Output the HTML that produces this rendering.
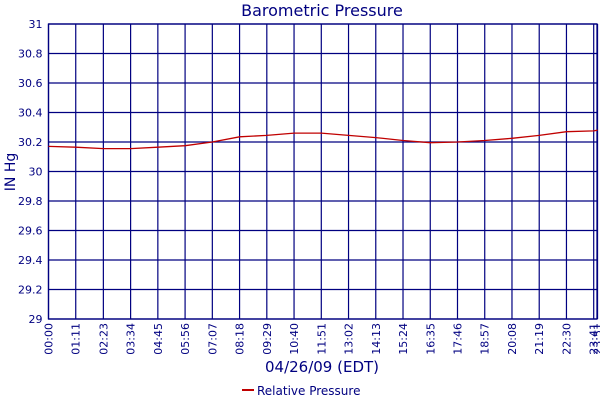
<!DOCTYPE html>
<html><head><meta charset="utf-8"><style>
body{margin:0;background:#fff;}
svg{display:block;font-family:"DejaVu Sans","Liberation Sans",sans-serif;}
</style></head><body>
<svg id="c" width="600" height="400">
<text x="322" y="16" font-size="16" fill="#000080" text-anchor="middle">Barometric Pressure</text>
<text transform="translate(15,172) rotate(-90)" font-size="14" fill="#000080" text-anchor="middle">IN Hg</text>
<text x="322" y="372" font-size="15" fill="#000080" text-anchor="middle">04/26/09 (EDT)</text>
<line x1="242" y1="390" x2="254" y2="390" stroke="#c00000" stroke-width="2"/>
<text x="257" y="395" font-size="12" fill="#000080">Relative Pressure</text>
<g id="grid"></g><g id="ticks"></g><path id="line" fill="none" stroke="#c00000" stroke-width="1.3"/>
</svg>
<script>
const xLabels=["00:00","01:11","02:23","03:34","04:45","05:56","07:07","08:18","09:29","10:40","11:51","13:02","14:13","15:24","16:35","17:46","18:57","20:08","21:19","22:30","23:41","23:51"];
const xMinutes=[0,71,143,214,285,356,427,498,569,640,711,782,853,924,995,1066,1137,1208,1279,1350,1421,1431];
const pressure=[30.17,30.165,30.155,30.155,30.165,30.175,30.20,30.235,30.245,30.26,30.26,30.245,30.23,30.21,30.195,30.20,30.21,30.225,30.245,30.27,30.275,30.28];
const yTicks=[29,29.2,29.4,29.6,29.8,30,30.2,30.4,30.6,30.8,31];
const L=48.5,R=597,T=24,B=319;
const x=m=>L+m*(593.7-L)/1421;
const y=v=>B-(v-29)/2*(B-T);
const ns="http://www.w3.org/2000/svg";
const g=document.getElementById('grid'),tk=document.getElementById('ticks');
function mk(tag,a,p){const e=document.createElementNS(ns,tag);for(const k in a)e.setAttribute(k,a[k]);p.appendChild(e);return e;}
const fr=mk('rect',{x:L,y:T,width:R-L,height:B-T,fill:'none',stroke:'#000080','stroke-width':1.3},g);


yTicks.forEach(v=>{
 const l=mk('line',{x1:L,x2:R,y1:y(v),y2:y(v),stroke:'#000080','stroke-width':1.2},g);
 
 
 const t=mk('text',{x:L-6,y:y(v)+4,'font-size':11,fill:'#000080','text-anchor':'end'},tk);
 t.textContent=String(v);
 
 
});
xMinutes.forEach((m,i)=>{
 const l=mk('line',{x1:x(m),x2:x(m),y1:T,y2:B,stroke:'#000080','stroke-width':1.2},g);
 
 
 const t=mk('text',{transform:`translate(${x(m)+4},${B+4}) rotate(-90)`,'font-size':11,fill:'#000080','text-anchor':'end'},tk);
 t.textContent=xLabels[i];
 
 
});
document.getElementById('line').setAttribute('d',pressure.map((v,i)=>(i?'L':'M')+x(xMinutes[i]).toFixed(1)+','+y(v).toFixed(1)).join(''));
</script>
</body></html>
